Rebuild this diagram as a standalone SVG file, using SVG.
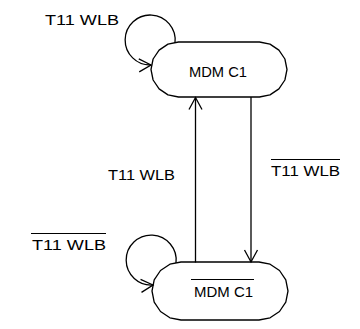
<svg xmlns="http://www.w3.org/2000/svg" width="360" height="329" viewBox="0 0 360 329">
<style>
.node{fill:none;stroke:#000;stroke-width:1.3;stroke-linejoin:round}
.edge{fill:none;stroke:#000;stroke-width:1.3}
.bar{stroke:#000;stroke-width:1.2}
text{font-family:"Liberation Sans","DejaVu Sans",sans-serif;font-size:15.5px;fill:#000}
</style>
<defs>
<marker id="arr" markerUnits="userSpaceOnUse" markerWidth="16" markerHeight="16" viewBox="-14 -8 16 16" refX="0" refY="0" orient="auto">
<path d="M-12,-6.5 L0,0 L-12,6.5" fill="none" stroke="#000" stroke-width="1.3"/>
</marker>
</defs>
<rect width="360" height="329" fill="#fff"/>
<g id="node-mdm-c1">
<polygon class="node" points="259.5,42 270,44.1 278.9,50.1 284.9,59 287,69.5 284.9,80 278.9,88.9 270,94.9 259.5,97 178.5,97 168,94.9 159.1,88.9 153.1,80 151,69.5 153.1,59 159.1,50.1 168,44.1 178.5,42"/>
<text x="189" y="76.5" textLength="58" lengthAdjust="spacingAndGlyphs">MDM C1</text>
</g>
<g id="node-not-mdm-c1">
<polygon class="node" points="259,262 270.1,264.2 279.5,270.5 285.8,279.9 288,291 285.8,302.1 279.5,311.5 270.1,317.8 259,320 181,320 169.9,317.8 160.5,311.5 154.2,302.1 152,291 154.2,279.9 160.5,270.5 169.9,264.2 181,262"/>
<text x="194" y="297" textLength="59" lengthAdjust="spacingAndGlyphs">MDM C1</text>
<line class="bar" x1="191" y1="279.5" x2="254" y2="279.5"/>
</g>
<g id="connectors">
<path class="edge" d="M175,42.7 A25,25 0 1 0 151,65" marker-end="url(#arr)"/>
<path class="edge" d="M176,263 A25,25 0 1 0 153,285" marker-end="url(#arr)"/>
<line class="edge" x1="195.5" y1="262.5" x2="195.5" y2="97.5" marker-end="url(#arr)"/>
<line class="edge" x1="251" y1="97" x2="251" y2="262" marker-end="url(#arr)"/>
</g>
<g id="labels">
<text x="45" y="25" textLength="74" lengthAdjust="spacingAndGlyphs">T11 WLB</text>
<text x="108" y="180" textLength="67" lengthAdjust="spacingAndGlyphs">T11 WLB</text>
<text x="271" y="176" textLength="69" lengthAdjust="spacingAndGlyphs">T11 WLB</text>
<line class="bar" x1="271" y1="159.5" x2="340" y2="159.5"/>
<text x="32" y="250" textLength="74" lengthAdjust="spacingAndGlyphs">T11 WLB</text>
<line class="bar" x1="31" y1="233.5" x2="106" y2="233.5"/>
</g>
</svg>
